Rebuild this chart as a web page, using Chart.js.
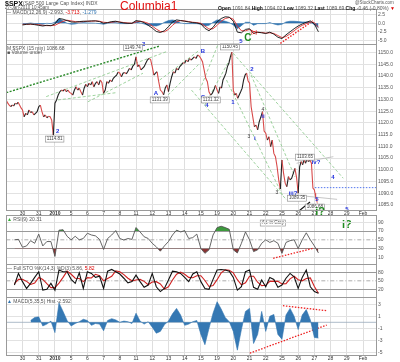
<!DOCTYPE html>
<html>
<head>
<meta charset="utf-8">
<script src="https://cdn.jsdelivr.net/npm/chart.js@4"></script>
<style>
body{margin:0;background:#fff;width:400px;height:362px;overflow:hidden;position:relative;font-family:"Liberation Sans",Arial,sans-serif}
canvas{position:absolute;left:0;top:0}
.t{position:absolute;white-space:nowrap;font-size:5px;color:#555;line-height:1}
.b{font-weight:bold;color:#111}
</style>
</head>
<body>
<canvas id="macd" width="400" height="362"></canvas>
<canvas id="price" width="400" height="362"></canvas>
<canvas id="rsi" width="400" height="362"></canvas>
<canvas id="sto" width="400" height="362"></canvas>
<canvas id="hist" width="400" height="362"></canvas>

<div class="t b" style="left:5px;top:0px;font-size:7px">$SPX</div>
<div class="t" style="left:23px;top:1px">(S&amp;P 500 Large Cap Index) INDX</div>
<div class="t" style="left:5px;top:6px;font-size:4.5px">27-Jan-2010 10:45am</div>
<div class="t" style="left:120px;top:0px;font-size:12px;color:#e01010">Columbia1</div>
<div class="t" style="left:355px;top:1px;font-size:4.5px">@StockCharts.com</div>
<div class="t" style="left:218px;top:6px"><span class="b">Open</span> 1091.84 <span class="b">High</span> 1094.02 <span class="b">Low</span> 1089.32 <span class="b">Last</span> 1089.69 <span class="b">Chg</span> -0.46 (-0.80%) <span style="color:#d00">&#9660;</span></div>
<div class="t" style="left:6px;top:10px">&#8212; MACD(12,26,9) -2.993, <span style="color:#d00">-3.713</span>, <span style="color:#2f73b0">-1.279</span></div>
<div class="t" style="left:7px;top:45.5px">M $SPX (15 min) 1086.68</div>
<div class="t" style="left:7px;top:50px">&#9632; Volume undef</div>
<div class="t" style="left:7px;top:216.5px"><span style="color:#3a3">&#9650;</span> RSI(9) 20.31</div>
<div class="t" style="left:7px;top:265.5px">&#8212; Full STO %K(14,3) %D(3) 5.86, <span style="color:#d00">5.82</span></div>
<div class="t" style="left:7px;top:298.5px"><span style="color:#2f73b0">&#9650;</span> MACD(5,35,5) Hist -2.592</div>

<script>
// trading days on the x axis (index 0 = Dec 29)
const dayLabels = ['', '30', '31', '2010', '5', '6', '7', '8', '11', '12', '13', '14', '15',
  '19', '20', '21', '22', '25', '26', '27', '28', '29', 'Feb'];

// 15 min closes, one array per day
const priceDays = [
  [1129.7, 1128.4, 1127.6, 1126.9, 1127.6, 1127.2, 1128.4, 1128.0, 1128.8, 1127.6, 1126.4],
  [1125.5, 1122.6, 1124.1, 1123.4, 1125.5, 1124.4, 1124.8, 1123.4, 1124.1, 1124.8],
  [1126.9, 1127.6, 1124.8, 1122.6, 1123.4, 1122.2, 1122.8, 1122.6, 1121.2, 1114.8],
  [1128.4, 1129.8, 1131.9, 1133.3, 1134.0, 1133.6, 1134.4, 1133.3, 1134.0, 1133.0],
  [1132.6, 1131.9, 1134.0, 1135.4, 1134.0, 1134.8, 1133.3, 1131.9, 1134.8, 1136.5],
  [1135.4, 1136.9, 1136.2, 1137.6, 1135.4, 1136.9, 1137.6, 1136.2, 1138.3, 1137.1],
  [1132.6, 1134.0, 1137.6, 1136.9, 1138.3, 1137.6, 1139.0, 1139.7, 1140.4, 1141.7],
  [1141.2, 1139.7, 1141.2, 1141.5, 1140.9, 1142.0, 1143.3, 1142.6, 1144.2, 1145.0],
  [1148.2, 1144.0, 1144.7, 1142.6, 1143.3, 1144.0, 1145.4, 1146.8, 1147.5, 1147.0],
  [1144.0, 1140.4, 1141.2, 1141.8, 1137.6, 1134.0, 1133.3, 1132.0, 1134.8, 1136.2],
  [1133.3, 1136.9, 1139.7, 1141.8, 1141.2, 1143.3, 1142.6, 1144.0, 1144.7, 1145.7],
  [1145.4, 1146.8, 1146.1, 1147.5, 1146.8, 1147.5, 1148.2, 1147.5, 1149.0, 1148.5],
  [1147.5, 1146.1, 1142.6, 1139.0, 1137.6, 1133.3, 1131.9, 1132.6, 1134.0, 1136.0],
  [1134.0, 1132.6, 1135.4, 1134.8, 1138.3, 1139.7, 1141.2, 1144.0, 1145.4, 1148.2, 1150.2],
  [1134.0, 1131.9, 1132.6, 1130.5, 1131.9, 1133.3, 1134.8, 1138.3, 1140.4, 1141.2, 1138.0],
  [1136.9, 1126.9, 1122.6, 1118.4, 1119.1, 1117.0, 1120.5, 1122.6, 1124.8, 1116.5],
  [1115.6, 1112.7, 1114.1, 1109.9, 1112.7, 1107.0, 1105.6, 1101.3, 1095.7, 1091.8],
  [1104.2, 1098.5, 1094.3, 1092.8, 1097.1, 1095.7, 1096.4, 1098.5, 1100.6, 1096.8],
  [1090.0, 1101.3, 1103.5, 1102.1, 1104.2, 1102.8, 1104.9, 1103.5, 1104.2, 1102.8, 1092.2],
  [1091.4, 1090.0, 1088.5, 1087.5, 1086.7]
];
const barsPerDay = 26;

// indicator readings, 4 per day
const sampleStep = 0.25;
const macdLine = [-0.5,-0.3,-0.2,-0.4, -0.6,-0.8,-0.6,-0.7, -0.2,1.4,1.2,0.8, 0.4,0.3,0.5,0.6,
  0.6,0.7,0.7,0.5, 0.0,0.2,0.5,0.6, 0.3,0.1,0.0,0.0, 0.8,0.6,0.2,-0.6, -1.4,-2.4,-2.7,-2.2,
  -1.0,0.4,1.0,0.8, 0.6,0.4,0.2,0.1, -0.2,-1.5,-2.2,-1.2, 0.4,1.4,1.9,1.8, 0.6,-2.6,-2.8,-1.8,
  -1.6,-3.0,-2.6,-2.8, -3.0,-2.6,-3.2,-4.1, -4.5,-3.4,-2.5,-1.6, -0.8,-0.2,0.3,0.7, -0.2,-2.5];
const macdSignal = [-0.3,-0.3,-0.3,-0.3, -0.4,-0.6,-0.7,-0.7, -0.6,0.0,0.6,0.9, 0.7,0.5,0.4,0.5,
  0.6,0.6,0.7,0.6, 0.3,0.2,0.3,0.5, 0.4,0.2,0.1,0.0, 0.4,0.6,0.4,0.0, -0.8,-1.7,-2.4,-2.5,
  -1.8,-0.6,0.4,0.8, 0.7,0.5,0.3,0.2, 0.0,-0.8,-1.7,-1.6, -0.6,0.6,1.4,1.7, 1.2,-0.8,-2.2,-2.2,
  -1.8,-2.4,-2.7,-2.7, -2.9,-2.8,-3.0,-3.6, -4.2,-3.9,-3.1,-2.2, -1.3,-0.6,-0.1,0.4, 0.2,-1.2];
const macdHist = [-0.1,-0.1,0.1,-0.1, -0.2,-0.3,0.0,-0.1, 0.3,1.4,0.7,0.0, -0.3,-0.2,0.1,0.2,
  0.1,0.1,0.0,-0.1, -0.3,0.0,0.3,0.2, -0.1,-0.1,-0.1,0.0, 0.5,0.1,-0.2,-0.6, -0.7,-0.8,-0.4,0.3,
  0.8,1.0,0.7,0.1, -0.1,-0.1,-0.1,-0.1, -0.3,-0.8,-0.6,0.3, 1.0,0.9,0.6,0.2, -0.5,-1.6,-0.7,0.3,
  0.3,-0.6,-0.1,-0.1, -0.1,0.2,-0.2,-0.5, -0.3,0.4,0.6,0.6, 0.5,0.4,0.4,0.3, -0.4,-1.3];
const macdStart = 1;

const rsiValues = [50,51, 33,36,48,42, 63,36,46,46, 12,72,73,58, 50,58,50,53, 65,61,59,51,
  28,53,61,71, 53,49.5,53,51, 78,68,57,53, 42,34,24,36, 46,61,72,68, 71,53,55,63, 30,19,27,61,
  78,81,78,74, 27,20,42,68, 50,23,27,42, 50,44,48,42, 19,44,48,50, 30,50,66,50, 36,20];
const rsiStart = 0.5;

const stoK = [35,76, 47,23,41,62, 82,17,20,41, 17,88,82,82, 55,41,78,23, 82,76,62,66, 23,84,90,82,
  74,59,43,47, 70,47,27,35, 76,29,12,23, 53,84,82,76, 62,47,74,82, 47,23,20,55, 88,90,88,84,
  62,17,29,82, 88,27,20,53, 29,62,55,27, 35,59,76,64, 23,62,88,29, 12,6];
const stoD = [40,55, 55,48,37,42, 62,55,40,26, 26,42,62,84, 73,59,58,47, 61,60,73,68, 50,58,66,85,
  82,72,59,50, 53,55,48,36, 46,47,39,21, 29,53,73,81, 73,62,61,68, 68,51,30,33, 54,78,89,87,
  78,54,36,43, 66,66,45,33, 34,48,49,48, 39,40,57,66, 54,50,58,60, 30,6];
const stoStart = 0.5;

const histValues = [0.3,0.8, 0.9,-0.6,-0.3,0.2, -1.7,3.2,1.8,0.3, -0.6,-0.2,0.1,0.5, 0.3,-0.5,-0.2,-0.3,
  -1.4,0.3,0.6,0.4, 0.0,0.2,0.1,-0.2, 1.5,0.2,-0.3,0.1, -0.8,-1.8,-1.5,-0.4, 0.2,1.4,2.3,1.2,
  -0.5,-0.3,0.1,0.3, -2.0,-3.7,-1.0,1.5, 3.4,2.2,0.8,0.1, -1.5,-4.6,-1.2,1.8, 2.3,-3.5,-2.0,1.8,
  -1.5,1.0,1.3,-2.0, -2.8,1.2,2.3,1.0, -1.2,1.2,2.1,0.4, -2.5,-2.6];
const histStart = 1.5;

// tick labels
const priceTicks = [];
for (let v = 1085; v <= 1152.5; v += 2.5) priceTicks.push(v);
const macdTicks = [-5, -2.5, 0, 2.5];
const rsiTicks = [10, 30, 50, 70, 90];
const stoTicks = [20, 50, 80];
const histTicks = [-5, -4, -3, -2, -1, 0, 1, 2, 3];

// drawn trend lines [x1, y1, x2, y2]
const priceTrends = [
  [0, 1132.9, 9.46, 1152.8],
  [2.46, 1131.2, 9.88, 1150.4],
  [3.18, 1129.8, 6.79, 1132.9],
  [5.03, 1129.0, 8.43, 1141.2],
  [9.46, 1138.3, 11.93, 1151.1],
  [9.98, 1131.9, 11.93, 1145.4],
  [11.93, 1134.0, 13.17, 1155.4],
  [12.24, 1127.6, 13.99, 1149.7],
  [11.42, 1134.0, 17.29, 1087.1],
  [13.58, 1138.3, 17.08, 1088.5],
  [13.99, 1149.7, 20.78, 1096.4],
  [15.1, 1140.4, 17.8, 1097.0]
];
const priceGrayLines = [
  [17.9, 1102.8, 20.17, 1105.6],
  [17.7, 1089.3, 20.4, 1087.4]
];
const supportLevel = [19.03, 22.8, 1092.4];
const altPointer = [17.37, 1078.6, 18.73, 1086.3];
const macdRedTrend = [16.75, -6.4, 18.91, 0.7];
const rsiRedTrend = [16.46, 7.7, 18.93, 30.6];
const histRedTrends = [[17.06, 2.74, 19.76, 1.92], [15.02, -5.1, 19.76, -0.45]];

// wave labels [x, y, text, kind]
const priceNotes = [
  [3.17, 1116.5, '2', 'wave'], [2.98, 1113.1, '1114.81', 'box'],
  [8.47, 1153.6, '3', 'wave'], [7.8, 1152.2, '1149.74', 'box'],
  [9.22, 1132.8, 'A', 'wave'], [9.46, 1129.8, '1131.39', 'box'],
  [12.12, 1150.7, 'B', 'wave'], [13.8, 1152.4, '1150.45', 'box'],
  [14.47, 1154.9, '5', 'wave'],
  [12.12, 1131.0, 'C', 'wave'], [12.37, 1127.6, '4', 'wave'], [12.61, 1129.8, '1131.32', 'box'],
  [13.97, 1128.9, '1', 'wave'], [15.15, 1143.0, '2', 'wave'],
  [15.83, 1125.5, '4', 'small'], [15.83, 1122.9, 'ii', 'wave'],
  [14.96, 1114.0, '3', 'small'], [15.33, 1113.6, 'i', 'wave'],
  [16.69, 1090.1, '3', 'small'],
  [17.68, 1090.1, 'iii?', 'wave'], [17.93, 1087.9, '1089.35', 'box'],
  [18.42, 1105.4, '1103.65', 'box'], [19.1, 1103.3, 'iv?', 'wave'],
  [20.15, 1096.9, '4', 'wave'],
  [19.16, 1087.5, '5', 'wave'], [19.03, 1084.1, '1086.68', 'box'],
  [19.35, 1081.9, 'i?', 'big'],
  [21.0, 1083.3, '5', 'wave'], [21.0, 1076.5, 'i?', 'big'],
  [16.44, 1077.3, 'Alt. in Gray', 'box']
];
const macdNotes = [
  [14.9, -4.3, 'C', 'bigc'], [15.27, -2.6, '(c)', 'red']
];

const noteStyles = {
  wave: { font: 'bold 6px "Liberation Sans"', color: '#2233dd' },
  small: { font: '5px "Liberation Sans"', color: '#333' },
  box: { font: '4.5px "Liberation Sans"', color: '#444' },
  big: { font: 'bold 11px "Liberation Sans"', color: '#1f8a1f' },
  bigc: { font: 'bold 10px "Liberation Sans"', color: '#1f8a1f' },
  red: { font: '6px "Liberation Sans"', color: '#d00' }
};

function series(start, values) {
  return values.map((v, i) => ({ x: start + i * sampleStep, y: v }));
}
function segment(l, color, dash, width) {
  return { data: [{ x: l[0], y: l[1] }, { x: l[2], y: l[3] }], borderColor: color,
    borderDash: dash, borderWidth: width || 1, fill: false };
}
function level(y, color, dash) {
  return { data: [{ x: 0, y: y }, { x: 22.8, y: y }], borderColor: color, borderDash: dash || [],
    borderWidth: 0.8, fill: false };
}

const pricePoints = [];
priceDays.forEach((day, d) => {
  const n = d === priceDays.length - 1 ? barsPerDay : day.length;
  day.forEach((p, i) => pricePoints.push({ x: d + i / n, y: p }));
});

const boxPlugin = {
  id: 'box',
  afterDraw(chart) {
    const a = chart.chartArea, c = chart.ctx;
    c.save();
    c.strokeStyle = '#9a9a9a';
    c.lineWidth = 1;
    c.strokeRect(Math.round(a.left) + 0.5, Math.round(a.top) + 0.5,
      Math.round(a.right - a.left), Math.round(a.bottom - a.top));
    c.restore();
  }
};

function notesPlugin(notes) {
  return {
    id: 'notes',
    afterDatasetsDraw(chart) {
      const c = chart.ctx, xs = chart.scales.x, ys = chart.scales.y;
      c.save();
      c.textAlign = 'center';
      c.textBaseline = 'middle';
      notes.forEach(n => {
        const st = noteStyles[n[3]];
        const px = xs.getPixelForValue(n[0]), py = ys.getPixelForValue(n[1]);
        c.font = st.font;
        if (n[3] === 'box') {
          const w = c.measureText(n[2]).width + 3;
          c.fillStyle = '#fff';
          c.fillRect(px - w / 2, py - 3, w, 6);
          c.strokeStyle = '#888';
          c.lineWidth = 0.6;
          c.strokeRect(px - w / 2, py - 3, w, 6);
        }
        c.fillStyle = st.color;
        c.fillText(n[2], px, py);
      });
      c.restore();
    }
  };
}

function panel(id, o) {
  return new Chart(document.getElementById(id), {
    type: 'line',
    data: { datasets: o.datasets },
    options: {
      responsive: false,
      animation: false,
      events: [],
      layout: { padding: { left: 6.3, right: 0, top: o.top, bottom: 362 - o.bottom - (o.xLabels ? 7 : 0) } },
      plugins: { legend: { display: false }, tooltip: { enabled: false } },
      elements: { point: { radius: 0 }, line: { tension: 0, borderWidth: 1 } },
      scales: {
        x: {
          type: 'linear', min: 0, max: 22.8, offset: false,
          afterBuildTicks: s => { s.ticks = dayLabels.map((l, i) => ({ value: i })).slice(1); },
          afterFit: s => { s.height = o.xLabels ? 7 : 0; },
          grid: { color: '#dedede', drawTicks: false, offset: false },
          border: { display: false },
          ticks: {
            display: !!o.xLabels, padding: 1, autoSkip: false, maxRotation: 0, color: '#333',
            font: c => ({ family: 'Liberation Sans', size: 5, weight: c.tick && c.tick.value === 3 ? 'bold' : 'normal' }),
            callback: v => dayLabels[v]
          }
        },
        y: {
          position: 'right', min: o.min, max: o.max,
          afterBuildTicks: s => { s.ticks = o.ticks.map(v => ({ value: v })); },
          afterFit: s => { s.width = 24; },
          grid: { color: o.gridColor || '#e2e2e2', drawTicks: false },
          border: { display: false },
          ticks: { padding: 2, color: '#555', font: { family: 'Liberation Sans', size: 5 }, callback: o.fmt || (v => v) }
        }
      }
    },
    plugins: [boxPlugin, notesPlugin(o.notes || [])]
  });
}

// top MACD(12,26,9)
panel('macd', {
  top: 9, bottom: 44, min: -6.09, max: 4.2, ticks: macdTicks, notes: macdNotes,
  fmt: v => v.toFixed(1),
  datasets: [
    { data: series(macdStart, macdLine), borderColor: '#111', borderWidth: 0.9, fill: false },
    { data: series(macdStart, macdSignal), borderColor: '#e03030', borderWidth: 0.9, fill: false },
    { data: series(macdStart, macdHist), borderColor: '#2f73b0', borderWidth: 0.6,
      backgroundColor: '#2f73b0', fill: 'origin' },
    segment(macdRedTrend, '#ee2020', [1.5, 1.5], 1.4)
  ]
});

// price
const priceSets = [
  { data: pricePoints, borderWidth: 1.1, fill: false,
    segment: { borderColor: c => c.p1.parsed.y < c.p0.parsed.y ? '#d84a4a' : '#222' } },
  segment(altPointer, '#111', [], 1.2),
  { data: [{ x: supportLevel[0], y: supportLevel[2] }, { x: supportLevel[1], y: supportLevel[2] }],
    borderColor: '#5577ee', borderDash: [1.5, 1.5], borderWidth: 1, fill: false }
];
priceGrayLines.forEach(l => priceSets.push(segment(l, '#b8b8b8', [], 0.8)));
priceTrends.forEach((l, i) => priceSets.push(i === 0 ?
  segment(l, '#2a8a2a', [2, 1.5], 1.4) : segment(l, '#86c886', [3, 2], 0.8)));
panel('price', {
  top: 44, bottom: 210, xLabels: true, min: 1082.86, max: 1153.65, ticks: priceTicks,
  notes: priceNotes, fmt: v => v.toFixed(1), datasets: priceSets
});

// RSI(9)
panel('rsi', {
  top: 215, bottom: 264, min: -5.3, max: 106.7, ticks: rsiTicks,
  gridColor: c => (c.tick.value === 70 || c.tick.value === 30) ? '#9a9a9a' : (c.tick.value === 50 ? 'rgba(0,0,0,0)' : '#e2e2e2'),
  datasets: [
    { data: series(rsiStart, rsiValues), borderColor: '#555', borderWidth: 0.9,
      fill: { target: { value: 70 }, above: '#3c9a3c', below: 'rgba(0,0,0,0)' } },
    { data: series(rsiStart, rsiValues), borderColor: 'rgba(0,0,0,0)', borderWidth: 0,
      fill: { target: { value: 30 }, above: 'rgba(0,0,0,0)', below: '#8a3434' } },
    segment(rsiRedTrend, '#ee2020', [1.5, 1.5], 1.3),
    level(50, '#999', [4, 2, 1, 2])
  ]
});

// Full STO
panel('sto', {
  top: 264, bottom: 297, min: -7.2, max: 109.3, ticks: stoTicks,
  gridColor: c => c.tick.value === 50 ? 'rgba(0,0,0,0)' : '#9a9a9a',
  datasets: [
    { data: series(stoStart, stoK), borderColor: '#111', borderWidth: 1.1, fill: false },
    { data: series(stoStart, stoD), borderColor: '#d02020', borderWidth: 1.1, fill: false },
    level(50, '#999', [4, 2, 1, 2])
  ]
});

// MACD(5,35,5) histogram
panel('hist', {
  top: 297, bottom: 355, xLabels: true, min: -5.4, max: 4.18, ticks: histTicks,
  datasets: [
    { data: series(histStart, histValues), borderColor: '#2f73b0', borderWidth: 0.6,
      backgroundColor: '#3578b3', fill: 'origin' },
    segment(histRedTrends[0], '#ee2020', [1.5, 1.5], 1.3),
    segment(histRedTrends[1], '#ee2020', [1.5, 1.5], 1.3),
    level(0, '#9ab', [])
  ]
});
</script>
</body>
</html>
